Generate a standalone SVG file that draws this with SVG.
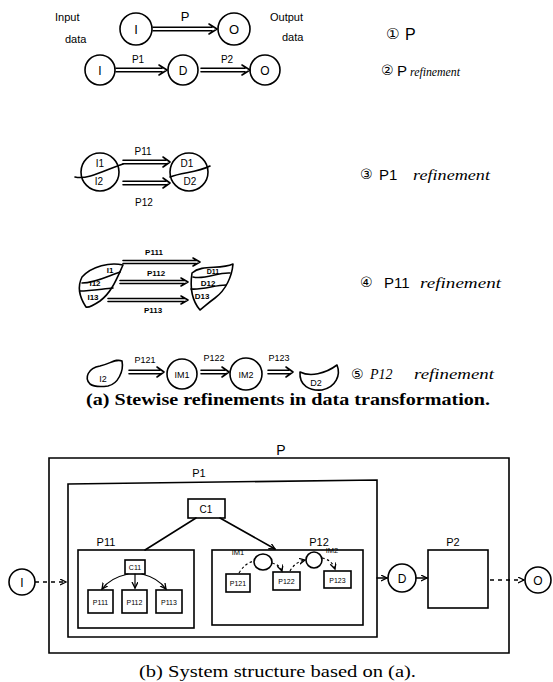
<svg xmlns="http://www.w3.org/2000/svg" width="553" height="682" viewBox="0 0 553 682">
<style>
  .ln{fill:none;stroke:#000;stroke-width:1.6;stroke-linecap:round;stroke-linejoin:round}
  .thin{fill:none;stroke:#000;stroke-width:1.2;stroke-linecap:round}
  .dash{fill:none;stroke:#000;stroke-width:1.5;stroke-dasharray:4 4}
  .dot{fill:none;stroke:#000;stroke-width:1.2;stroke-dasharray:2.5 2.5}
  .box{fill:#fff;stroke:#000;stroke-width:1.6}
  .hw{font-family:"Liberation Sans",Arial,sans-serif;fill:#000}
  .sc{font-family:"Liberation Serif","Times New Roman",serif;font-style:italic;fill:#000}
  .cap{font-family:"Liberation Serif","Times New Roman",serif;fill:#000}
  .num{font-family:"DejaVu Sans",sans-serif;fill:#000}
</style>
<defs>
  <marker id="ah" markerWidth="8" markerHeight="8" refX="6" refY="3" orient="auto" markerUnits="userSpaceOnUse">
    <path d="M0,0 L6,3 L0,6" fill="none" stroke="#000" stroke-width="1.3"/>
  </marker>
</defs>

<!-- (a) step 1 -->
<g id="s1">
  <text class="hw" x="55" y="21" font-size="11">Input</text>
  <text class="hw" x="65" y="43" font-size="11">data</text>
  <g id="s1-I"><circle class="ln" cx="136" cy="29" r="16"/><text class="hw" x="136" y="34" font-size="13" text-anchor="middle">I</text></g>
  <g id="s1-O"><circle class="ln" cx="234" cy="29" r="16"/><text class="hw" x="234" y="34" font-size="13" text-anchor="middle">O</text></g>
  <text class="hw" x="270" y="21" font-size="11">Output</text>
  <text class="hw" x="282" y="41" font-size="11">data</text>
  <text class="num" x="386" y="39" font-size="15">①</text>
  <text class="hw" x="405" y="40" font-size="16">P</text>
</g>
<!-- (a) step 2 -->
<g id="s2">
  <g id="s2-I"><circle class="ln" cx="100" cy="70" r="15"/><text class="hw" x="100" y="75" font-size="12" text-anchor="middle">I</text></g>
  <g id="s2-D"><circle class="ln" cx="183" cy="70" r="15"/><text class="hw" x="183" y="75" font-size="12" text-anchor="middle">D</text></g>
  <g id="s2-O"><circle class="ln" cx="265" cy="70" r="15"/><text class="hw" x="265" y="75" font-size="12" text-anchor="middle">O</text></g>
  <text class="num" x="381" y="75" font-size="14">②</text>
  <text class="hw" x="397" y="76" font-size="15">P</text>
  <text class="sc" x="410" y="76" font-size="13" textLength="50" lengthAdjust="spacingAndGlyphs">refinement</text>
</g>
<!-- (a) step 3 -->
<g id="s3">
  <g id="s3-I"><circle class="ln" cx="100" cy="172" r="19"/><path class="ln" d="M75,177 C88,180 105,170 123,164"/>
    <text class="hw" x="100" y="167" font-size="10" text-anchor="middle">I1</text><text class="hw" x="99" y="185" font-size="10" text-anchor="middle">I2</text></g>
  <g id="s3-D"><circle class="ln" cx="189" cy="172" r="19"/><path class="ln" d="M170,177 C182,172 196,173 210,166"/>
    <text class="hw" x="187" y="167" font-size="10" text-anchor="middle">D1</text><text class="hw" x="190" y="185" font-size="10" text-anchor="middle">D2</text></g>
  <text class="num" x="360" y="179" font-size="14">③</text>
  <text class="hw" x="379" y="180" font-size="15">P1</text>
  <text class="sc" x="413" y="180" font-size="14" textLength="77" lengthAdjust="spacingAndGlyphs">refinement</text>
</g>
<!-- (a) step 4 -->
<g id="s4">
  <g id="s4-I">
    <path class="ln" d="M82,277 C92,266 110,262 123,265 C117,278 112,292 100,301 C94,305 89,308 86,307 C80,298 77,287 82,277 Z"/>
    <path class="ln" d="M82,283 C95,283 108,276 120,272"/>
    <path class="ln" d="M80,291 C90,291 102,289 113,288"/>
    <text class="hw" x="110" y="273" font-size="8" font-weight="bold" text-anchor="middle">I1</text>
    <text class="hw" x="95" y="286" font-size="8" font-weight="bold" text-anchor="middle">I12</text>
    <text class="hw" x="93" y="300" font-size="8" font-weight="bold" text-anchor="middle">I13</text>
  </g>
  <g id="s4-D">
    <path class="ln" d="M192,273 C202,264 220,270 233,264 C232,276 226,290 215,298 C208,303 203,308 200,310 C194,303 189,293 192,273 Z"/>
    <path class="ln" d="M193,277 C205,280 218,272 230,273"/>
    <path class="ln" d="M191,289 C203,290 215,285 226,285"/>
    <text class="hw" x="213" y="274" font-size="7" font-weight="bold" text-anchor="middle">D11</text>
    <text class="hw" x="208" y="286" font-size="8" font-weight="bold" text-anchor="middle">D12</text>
    <text class="hw" x="202" y="299" font-size="8" font-weight="bold" text-anchor="middle">D13</text>
  </g>
  <text class="num" x="360" y="287" font-size="14">④</text>
  <text class="hw" x="384" y="288" font-size="15">P11</text>
  <text class="sc" x="420" y="288" font-size="15" textLength="81" lengthAdjust="spacingAndGlyphs">refinement</text>
</g>
<!-- (a) step 5 -->
<g id="s5">
  <g id="s5-I2"><path class="ln" d="M90,384 C84,378 88,368 100,366 C110,364 116,358 122,361 C124,371 118,384 108,386 C100,387 94,387 90,384 Z"/>
    <text class="hw" x="103" y="382" font-size="9" text-anchor="middle">I2</text></g>
  <g id="s5-IM1"><circle class="ln" cx="182" cy="374" r="15"/><text class="hw" x="182" y="378" font-size="9" text-anchor="middle">IM1</text></g>
  <g id="s5-IM2"><circle class="ln" cx="246" cy="374" r="16"/><text class="hw" x="246" y="378" font-size="9" text-anchor="middle">IM2</text></g>
  <g id="s5-D2"><path class="ln" d="M300,372 C310,377 325,374 337,365 C341,375 336,387 322,390 C310,391 299,386 300,372 Z"/>
    <text class="hw" x="316" y="386" font-size="9" text-anchor="middle">D2</text></g>
  <text class="num" x="351" y="379" font-size="14">⑤</text>
  <text class="sc" x="370" y="379" font-size="14">P12</text>
  <text class="sc" x="414" y="379" font-size="15" textLength="80" lengthAdjust="spacingAndGlyphs">refinement</text>
</g>

<!-- connectors of (a) -->
<g id="connectors-a">
  <path class="ln" d="M153,27.2 H212 M153,30.8 H212 M209,24 L217,29 L209,34"/>
  <text class="hw" x="185" y="21" font-size="13" text-anchor="middle">P</text>
  <path class="ln" d="M116,68.2 H162 M116,71.8 H162 M159,65 L167,70 L159,75"/>
  <text class="hw" x="138" y="63" font-size="10" text-anchor="middle">P1</text>
  <path class="ln" d="M201,68.2 H245 M201,71.8 H245 M242,65 L250,70 L242,75"/>
  <text class="hw" x="227" y="63" font-size="10" text-anchor="middle">P2</text>

  <path class="ln" d="M123,160.2 H166 M123,163.8 H166 M163,157 L170,162 L163,167"/>
  <text class="hw" x="143" y="155" font-size="10" text-anchor="middle">P11</text>
  <path class="ln" d="M123,181.2 H166 M123,184.8 H166 M163,178 L170,183 L163,188"/>
  <text class="hw" x="144" y="206" font-size="10" text-anchor="middle">P12</text>

  <path class="ln" d="M123,260.5 H196 M123,263.5 H196 M193,258 L200,262 L193,266"/>
  <text class="hw" x="154" y="255" font-size="8" font-weight="bold" text-anchor="middle">P111</text>
  <path class="ln" d="M120,280.5 H184 M120,283.5 H184 M181,278 L188,282 L181,286"/>
  <text class="hw" x="156" y="276" font-size="8" font-weight="bold" text-anchor="middle">P112</text>
  <path class="ln" d="M108,298.5 H184 M108,301.5 H184 M181,296 L188,300 L181,304"/>
  <text class="hw" x="153" y="313" font-size="8" font-weight="bold" text-anchor="middle">P113</text>

  <path class="ln" d="M129,370.2 H160 M129,373.8 H160 M157,367 L164,372 L157,377"/>
  <text class="hw" x="145" y="363" font-size="9" text-anchor="middle">P121</text>
  <path class="ln" d="M201,370.2 H225 M201,373.8 H225 M222,367 L229,372 L222,377"/>
  <text class="hw" x="214" y="361" font-size="9" text-anchor="middle">P122</text>
  <path class="ln" d="M268,370.2 H289 M268,373.8 H289 M286,367 L293,372 L286,377"/>
  <text class="hw" x="279" y="361" font-size="9" text-anchor="middle">P123</text>
</g>

<text class="cap" x="86" y="405" font-size="17" font-weight="bold" textLength="404" lengthAdjust="spacingAndGlyphs">(a)  Stewise refinements in data transformation.</text>

<!-- (b) -->
<g id="P"><path class="box" d="M49,458 H509 V653 H49 Z"/><text class="hw" x="281" y="455" font-size="14" text-anchor="middle">P</text></g>
<g id="P1"><path class="box" d="M68,484 L377,480 V637 H68 Z"/><text class="hw" x="199" y="477" font-size="11" text-anchor="middle">P1</text></g>
<g id="C1"><rect class="box" x="188" y="499" width="37" height="19"/><text class="hw" x="206" y="513" font-size="10" text-anchor="middle">C1</text></g>
<g id="P11"><rect class="box" x="78" y="550" width="116" height="78"/><text class="hw" x="106" y="546" font-size="11" text-anchor="middle">P11</text></g>
<g id="P12"><rect class="box" x="212" y="550" width="151" height="75"/><text class="hw" x="319" y="546" font-size="11" text-anchor="middle">P12</text></g>
<g id="P2"><rect class="box" x="428" y="550" width="60" height="58"/><text class="hw" x="453" y="546" font-size="11" text-anchor="middle">P2</text></g>
<g id="C11"><rect class="box" x="125" y="560" width="20" height="14"/><text class="hw" x="135" y="570" font-size="7" text-anchor="middle">C11</text></g>
<g id="P111"><rect class="box" x="88" y="590" width="25" height="23"/><text class="hw" x="100.5" y="605" font-size="7" text-anchor="middle">P111</text></g>
<g id="P112"><rect class="box" x="122" y="590" width="25" height="23"/><text class="hw" x="134.5" y="605" font-size="7" text-anchor="middle">P112</text></g>
<g id="P113"><rect class="box" x="156" y="590" width="26" height="23"/><text class="hw" x="169" y="605" font-size="7" text-anchor="middle">P113</text></g>
<g id="P121"><rect class="box" x="226" y="574" width="24" height="18"/><text class="hw" x="238" y="586" font-size="7" text-anchor="middle">P121</text></g>
<g id="P122"><rect class="box" x="273" y="572" width="27" height="18"/><text class="hw" x="286.5" y="584" font-size="7" text-anchor="middle">P122</text></g>
<g id="P123"><rect class="box" x="324" y="571" width="27" height="17"/><text class="hw" x="337.5" y="583" font-size="7" text-anchor="middle">P123</text></g>
<g id="IM1"><ellipse class="ln" cx="263" cy="562" rx="9" ry="8"/><text class="hw" x="238" y="555" font-size="7.5" text-anchor="middle">IM1</text></g>
<g id="IM2"><ellipse class="ln" cx="314" cy="560" rx="8" ry="8"/><text class="hw" x="332" y="553" font-size="7.5" text-anchor="middle">IM2</text></g>
<g id="Ib"><circle class="ln" cx="22" cy="582" r="13"/><text class="hw" x="22" y="587" font-size="12" text-anchor="middle">I</text></g>
<g id="Db"><circle class="ln" cx="402" cy="578" r="14"/><text class="hw" x="402" y="583" font-size="12" text-anchor="middle">D</text></g>
<g id="Ob"><circle class="ln" cx="538" cy="580" r="13"/><text class="hw" x="538" y="585" font-size="12" text-anchor="middle">O</text></g>

<g id="connectors-b">
  <path class="ln" d="M196,518 L145,550"/>
  <path class="ln" d="M220,518 L275,549" marker-end="url(#ah)"/>
  <path class="thin" d="M128,574 Q110,578 102,589" marker-end="url(#ah)"/>
  <path class="thin" d="M135,574 L135,588" marker-end="url(#ah)"/>
  <path class="thin" d="M142,574 Q158,578 166,589" marker-end="url(#ah)"/>
  <path class="dot" d="M239,573 Q245,563 254,561"/>
  <path class="dot" d="M272,563 Q280,565 282,571" marker-end="url(#ah)"/>
  <path class="dot" d="M290,571 Q295,562 305,560" marker-end="url(#ah)"/>
  <path class="dot" d="M322,558 Q332,560 335,569" marker-end="url(#ah)"/>
  <path class="dash" d="M35,582 H66" marker-end="url(#ah)"/>
  <path class="ln" d="M377,578 H387" marker-end="url(#ah)"/>
  <path class="ln" d="M416,578 H427" marker-end="url(#ah)"/>
  <path class="dash" d="M490,580 H524" marker-end="url(#ah)"/>
</g>

<text class="cap" x="139" y="677" font-size="16" textLength="277" lengthAdjust="spacingAndGlyphs">(b)  System structure based on (a).</text>
</svg>
